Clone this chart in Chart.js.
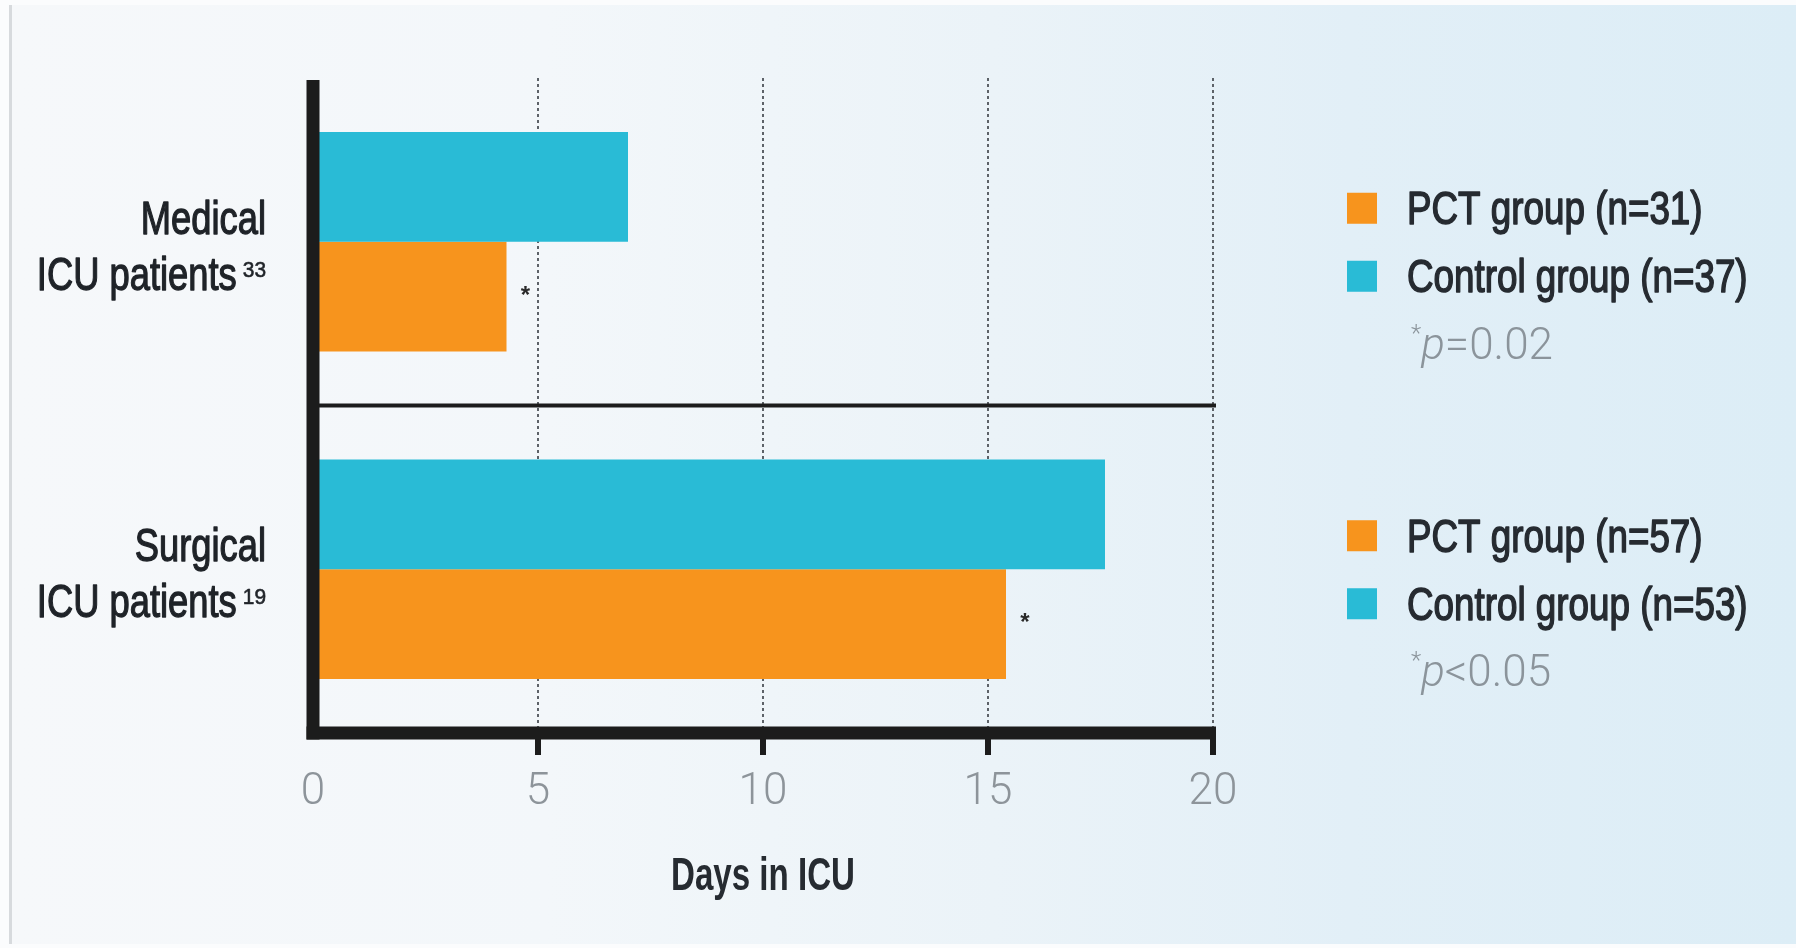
<!DOCTYPE html>
<html>
<head>
<meta charset="utf-8">
<script src="https://cdn.jsdelivr.net/npm/chart.js@4.4.0/dist/chart.umd.min.js"></script>
<style>
  html, body { margin: 0; padding: 0; width: 1796px; height: 948px; overflow: hidden; background: #fbfcfd; }
  #panel {
    position: absolute; left: 9px; top: 5px; width: 1787px; height: 939px;
    box-sizing: border-box; border-left: 3px solid #d7dadd;
    background: linear-gradient(to right, #f6f8fa 0%, #f3f7fa 30%, #ebf3f8 55%, #e2eff7 75%, #dcedf6 100%);
  }
  #chart { position: absolute; left: 0; top: 0; }
</style>
</head>
<body>
<div id="panel"></div>
<canvas id="chart" width="1796" height="948"></canvas>
<script>
// Length of ICU stay, procalcitonin-guided vs control groups
const categories = ['Medical', 'Surgical'];
const studyRefs = ['33', '19'];
const pctDays = [4.3, 15.4];
const controlDays = [7.0, 17.6];
const pctN = [31, 57];
const controlN = [37, 53];
const pValues = ['=0.02', '<0.05'];
const dayTicks = [0, 5, 10, 15, 20];

const PCT_COLOR = '#f7941d';
const CONTROL_COLOR = '#29bbd6';
const AXIS_INK = '#1c1c1c';
const TEXT_INK = '#262b31';
const NOTE_INK = '#8b949b';
const SANS = '"Liberation Sans", Arial, sans-serif';

// Draw text squeezed horizontally to imitate a condensed face;
// an optional outline thickens the strokes to a medium weight
function condensedText(ctx, text, x, y, align, sx, weight) {
  const w = ctx.measureText(text).width * sx;
  ctx.save();
  ctx.translate(x, y);
  ctx.scale(sx, 1);
  ctx.textAlign = align;
  ctx.fillText(text, 0, 0);
  if (weight) {
    ctx.strokeStyle = ctx.fillStyle;
    ctx.lineWidth = weight;
    ctx.lineJoin = 'round';
    ctx.strokeText(text, 0, 0);
  }
  ctx.restore();
  return w;
}

const annotate = {
  id: 'annotate',
  afterDatasetsDraw(chart) {
    const { ctx, chartArea } = chart;
    const xs = chart.scales.x, ys = chart.scales.y;
    const x0 = xs.getPixelForValue(0);
    const xEnd = xs.getPixelForValue(xs.max);
    ctx.save();

    // divider between the two patient groups
    const mid = (ys.getPixelForValue(0) + ys.getPixelForValue(1)) / 2;
    ctx.fillStyle = AXIS_INK;
    ctx.fillRect(x0, mid - 2, xEnd + 3 - x0, 4);

    // heavy axis lines
    ctx.fillRect(x0 - 6.5, chartArea.top + 2, 13, chartArea.bottom + 6.5 - chartArea.top - 2);
    ctx.fillRect(x0 - 6.5, chartArea.bottom - 6.5, xEnd + 3 - (x0 - 6.5), 13);

    // significance markers beside the PCT bars
    ctx.font = 'bold 24px ' + SANS;
    ctx.fillStyle = '#2a2a2a';
    ctx.textAlign = 'center';
    ctx.textBaseline = 'alphabetic';
    chart.getDatasetMeta(1).data.forEach(bar => {
      ctx.fillText('*', bar.x + 19, bar.y + 6);
    });

    // category labels
    const labelRight = x0 - 47;
    categories.forEach((name, i) => {
      const cy = ys.getPixelForValue(i);
      ctx.fillStyle = '#1f2328';
      ctx.font = '46px ' + SANS;
      condensedText(ctx, name, labelRight, cy - 8, 'right', 0.79, 1.3);
      ctx.font = '22px ' + SANS;
      const supW = condensedText(ctx, studyRefs[i], labelRight, cy + 35, 'right', 0.95, 0.6);
      ctx.font = '46px ' + SANS;
      condensedText(ctx, 'ICU patients', labelRight - supW - 6, cy + 48, 'right', 0.79, 1.3);
    });

    // group legends
    const boxX = xEnd + 134, textX = xEnd + 194;
    categories.forEach((name, i) => {
      const cy = ys.getPixelForValue(i);
      const rows = [
        [cy - 34, PCT_COLOR, 'PCT group (n=' + pctN[i] + ')'],
        [cy + 34, CONTROL_COLOR, 'Control group (n=' + controlN[i] + ')']
      ];
      rows.forEach(([ry, color, text]) => {
        ctx.fillStyle = color;
        ctx.fillRect(boxX, ry - 15, 30, 31);
        ctx.fillStyle = TEXT_INK;
        ctx.font = '46px ' + SANS;
        condensedText(ctx, text, textX, ry + 16.5, 'left', 0.8, 1.5);
      });
      const py = cy + 117;
      let px = textX + 4;
      ctx.fillStyle = NOTE_INK;
      ctx.textAlign = 'left';
      ctx.font = '300 24px Roboto';
      ctx.fillText('*', px, py - 18);
      px += ctx.measureText('*').width;
      ctx.font = 'italic 300 44px Roboto';
      ctx.fillText('p', px, py);
      px += ctx.measureText('p').width;
      ctx.font = '300 44px Roboto';
      ctx.fillText(pValues[i], px, py);
    });

    // axis title
    ctx.fillStyle = TEXT_INK;
    ctx.font = 'bold 46px ' + SANS;
    condensedText(ctx, 'Days in ICU', (x0 + xEnd) / 2, chartArea.bottom + 157, 'center', 0.72);

    ctx.restore();
  }
};

new Chart(document.getElementById('chart'), {
  type: 'bar',
  data: {
    labels: categories,
    datasets: [
      { label: 'Control group', data: controlDays, backgroundColor: CONTROL_COLOR, borderWidth: 0 },
      { label: 'PCT group', data: pctDays, backgroundColor: PCT_COLOR, borderWidth: 0 }
    ]
  },
  options: {
    indexAxis: 'y',
    responsive: false,
    animation: false,
    events: [],
    layout: { padding: { left: 0, right: 583, top: 78, bottom: 0 } },
    datasets: { bar: { categoryPercentage: 0.67, barPercentage: 1 } },
    plugins: { legend: { display: false }, tooltip: { enabled: false } },
    scales: {
      x: {
        type: 'linear', min: 0, max: 20,
        afterBuildTicks(scale) { scale.ticks = dayTicks.map(v => ({ value: v })); },
        afterFit(scale) { scale.height = 215; },
        grid: {
          color: c => (c.tick && c.tick.value === 0) ? 'rgba(0,0,0,0)' : '#5d6268',
          lineWidth: 2, drawTicks: true, tickLength: 22, tickWidth: 6,
          tickColor: c => (c.tick && c.tick.value === 0) ? 'rgba(0,0,0,0)' : AXIS_INK,
          tickBorderDash: []
        },
        border: { display: false, dash: [3, 3] },
        ticks: { font: { family: 'Roboto', weight: '300', size: 44 }, color: '#8d949a', padding: 12 }
      },
      y: {
        afterFit(scale) { scale.width = 313; },
        grid: { display: false },
        border: { display: false },
        ticks: { display: false }
      }
    }
  },
  plugins: [annotate]
});
</script>
</body>
</html>
